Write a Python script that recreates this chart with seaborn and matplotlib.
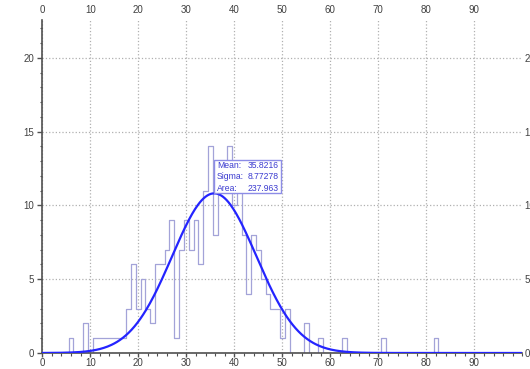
import numpy as np
import matplotlib
matplotlib.use("Agg")
import matplotlib.pyplot as plt
import seaborn as sns
from matplotlib.ticker import MultipleLocator
from matplotlib.patches import Rectangle

# non-empty histogram bins (bin centre, width 1) and their counts
bin_values = [6, 9, 11, 12, 13, 14, 15, 16, 17, 18, 19, 20, 21, 22, 23, 24, 25,
              26, 27, 28, 29, 30, 31, 32, 33, 34, 35, 36, 37, 38, 39, 40, 41,
              42, 43, 44, 45, 46, 47, 48, 49, 50, 51, 55, 58, 63, 71, 82]
bin_counts = [1, 2, 1, 1, 1, 1, 1, 1, 1, 3, 6, 3, 5, 3, 2, 6, 6,
              7, 9, 1, 7, 9, 7, 9, 6, 11, 14, 8, 12, 12, 14, 10, 11,
              8, 4, 8, 7, 5, 4, 3, 3, 1, 3, 2, 1, 1, 1, 1]

# gaussian fit shown in the box
fit_mean = 35.8216
fit_sigma = 8.77278
fit_area = 237.963

x_ticks = [0, 10, 20, 30, 40, 50, 60, 70, 80, 90]
y_ticks = [0, 5, 10, 15, 20]

sns.set_theme(style="white")
plt.rcParams['font.family'] = ['Liberation Sans', 'DejaVu Sans']

fig = plt.figure(figsize=(5.3, 3.69), dpi=100)
ax = fig.add_axes([0.0798, 0.0434, 0.9057, 0.9035])

sns.histplot(x=bin_values, weights=bin_counts, binwidth=1, binrange=(0.5, 99.5),
             element="step", fill=False, color="#a3a3d8", linewidth=0.9, ax=ax)

xc = np.linspace(0, 100, 501)
yc = fit_area / (fit_sigma * np.sqrt(2 * np.pi)) * np.exp(-0.5 * ((xc - fit_mean) / fit_sigma) ** 2)
sns.lineplot(x=xc, y=yc, color="#2424ff", linewidth=1.6, ax=ax, zorder=4)

# parameter box, anchored at the fit peak
peak = fit_area / (fit_sigma * np.sqrt(2 * np.pi))
box = Rectangle((fit_mean, peak), 13.9, 2.26, facecolor="white",
                edgecolor="#8c8ce6", linewidth=1, zorder=5)
ax.add_patch(box)
labels = ["Mean:", "Sigma:", "Area:"]
vals = ["35.8216", "8.77278", "237.963"]
for i in range(3):
    yy = peak + 1.92 - i * 0.8
    ax.text(fit_mean + 0.6, yy, labels[i], color="#3b3bd0", fontsize=6.2, va="center", zorder=6)
    t = ax.text(fit_mean + 6.9, yy, vals[i], color="#3b3bd0", fontsize=6.2, va="center", zorder=6)
    t.set_clip_path(box)

ax.set_xlim(0, 100)
ax.set_ylim(0, 22.6)
ax.set_xticks(x_ticks)
ax.set_yticks(y_ticks)
ax.xaxis.set_minor_locator(MultipleLocator(2))
ax.yaxis.set_minor_locator(MultipleLocator(1))
ax.set_xlabel("")
ax.set_ylabel("")
ax.grid(True, which="major", linestyle=":", color="#b0b0b0", linewidth=0.9)

ax.tick_params(which="major", direction="out", width=1, color="#505050",
               labelsize=7, labelcolor="#404040", bottom=True, left=True)
ax.tick_params(axis="x", which="major", length=2.8, pad=0.6)
ax.tick_params(axis="y", which="major", length=3.6, pad=2.5)
ax.tick_params(which="minor", direction="out", length=1.8, width=0.8, color="#505050",
               bottom=True, left=True)
for s in ["top", "right"]:
    ax.spines[s].set_visible(False)
for s in ["left", "bottom"]:
    ax.spines[s].set_color("#505050")
    ax.spines[s].set_linewidth(1.2)

# tick labels along the top and right edges (right ones run off the edge, as in the source)
top = ax.secondary_xaxis("top")
top.set_xticks(x_ticks)
top.tick_params(length=0, labelsize=7, labelcolor="#404040", pad=3.2)
top.spines["top"].set_visible(False)
right = ax.secondary_yaxis("right")
right.set_yticks(y_ticks)
right.tick_params(length=0, labelsize=7, labelcolor="#404040", pad=1.5)
right.spines["right"].set_visible(False)

fig.savefig("out.png", dpi=100)
